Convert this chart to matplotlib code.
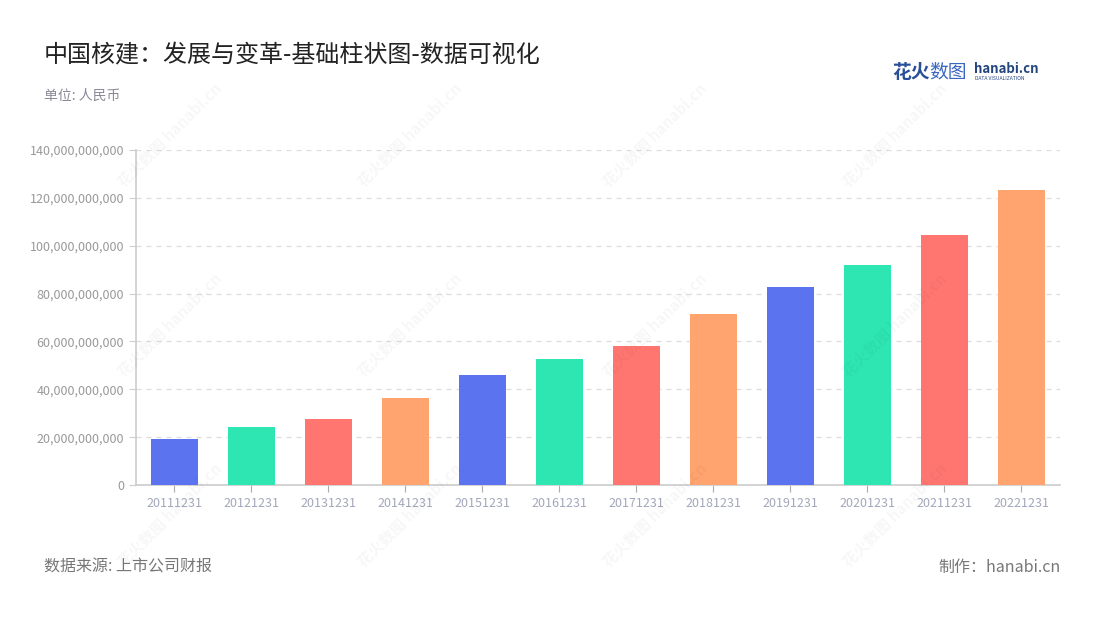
import numpy as np
import matplotlib.pyplot as plt
from matplotlib.ticker import FuncFormatter

plt.rcParams['font.family'] = ['Noto Sans CJK SC', 'DejaVu Sans']

# 数据
years = ['20111231', '20121231', '20131231', '20141231', '20151231', '20161231',
         '20171231', '20181231', '20191231', '20201231', '20211231', '20221231']
values = [19.2e9, 24.2e9, 27.5e9, 36.4e9, 46.0e9, 52.7e9,
          58.1e9, 71.4e9, 82.7e9, 91.9e9, 104.5e9, 123.3e9]
palette = ['#5b73ee', '#2ee6b2', '#ff7670', '#ffa36f']

fig = plt.figure(figsize=(11, 6.2), dpi=100)
ax = fig.add_axes([0.1236, 0.2177, 0.84, 0.5403])

x = np.arange(len(years))
colors = [palette[i % 4] for i in range(len(years))]
ax.bar(x, values, width=0.6, color=colors, zorder=3)

ax.set_xlim(-0.5, len(years) - 0.5)
ax.set_ylim(0, 140e9)
ax.set_yticks(np.arange(0, 140e9 + 1, 20e9))
ax.yaxis.set_major_formatter(FuncFormatter(lambda v, p: f'{int(v):,}'))
ax.set_xticks(x)
ax.set_xticklabels(years)

ax.grid(axis='y', linestyle=(0, (4, 4)), color='#dddddd', linewidth=0.9, zorder=0)
for s in ['top', 'right']:
    ax.spines[s].set_visible(False)
ax.spines['left'].set_color('#cccccc')
ax.spines['bottom'].set_color('#cccccc')
ax.spines['left'].set_linewidth(1.2)
ax.spines['bottom'].set_linewidth(1.2)
ax.tick_params(axis='y', colors='#cccccc', labelcolor='#999999', labelsize=9, length=5)
ax.tick_params(axis='x', colors='#aaaaaa', labelcolor='#a3a7ba', labelsize=9, length=5)

# 水印
for wx in [170, 410, 655, 895]:
    for wy in [135, 325, 515]:
        fig.text(wx / 1100, 1 - wy / 620, '花火数图 hanabi.cn', rotation=45, fontsize=11,
                 color='#000000', alpha=0.035, ha='center', va='center',
                 fontweight='bold')

# 标题等文字
fig.text(44 / 1100, 1 - 55 / 620, '中国核建：发展与变革-基础柱状图-数据可视化',
         fontsize=17.3, color='#222222', va='center')
fig.text(44 / 1100, 1 - 96 / 620, '单位: 人民币', fontsize=10, color='#8a8a98', va='center')
fig.text(44 / 1100, 1 - 567 / 620, '数据来源: 上市公司财报', fontsize=11.5, color='#777777', va='center')
fig.text(1061 / 1100, 1 - 567 / 620, '制作：hanabi.cn', fontsize=11.5, color='#777777',
         va='center', ha='right')

# logo
fig.text(892 / 1100, 1 - 72 / 620, '花火', fontsize=13.5, color='#2a4f9a', fontweight='bold', va='center')
fig.text(929 / 1100, 1 - 72 / 620, '数图', fontsize=13.5, color='#3a66c0', va='center')
fig.text(974 / 1100, 1 - 69 / 620, 'hanabi.cn', fontsize=9.5, color='#23467f', fontweight='bold', va='center')
fig.text(975 / 1100, 1 - 79 / 620, 'DATA VISUALIZATION', fontsize=3.6, color='#23467f', va='center')

fig.savefig('out.png', dpi=100)
